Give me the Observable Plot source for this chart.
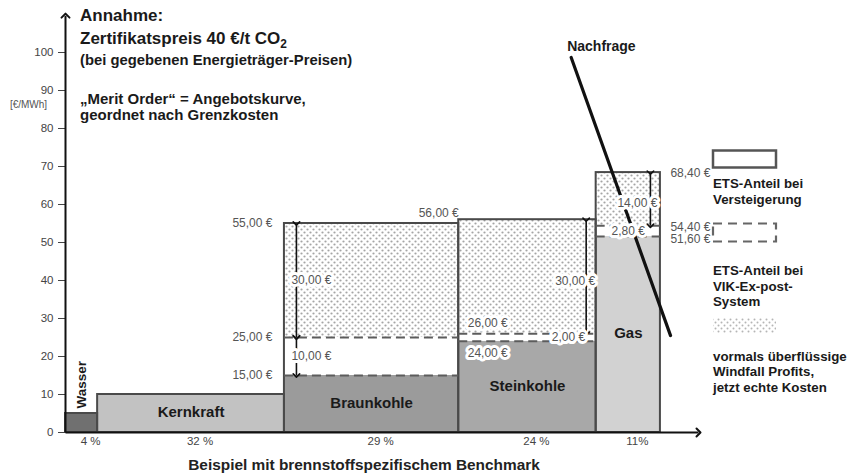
<!DOCTYPE html>
<html><head><meta charset="utf-8">
<script src="https://cdn.jsdelivr.net/npm/d3@7"></script>
<script src="https://cdn.jsdelivr.net/npm/@observablehq/plot@0.6"></script>
<style>
body{margin:0;background:#fff;font-family:Arial,"Liberation Sans",sans-serif;}
#wrap{position:relative;width:855px;height:474px;overflow:hidden;}
.t{position:absolute;white-space:nowrap;transform:translateY(-50%);line-height:1;color:#1a1a1a;font-weight:bold;}
.t sub{font-size:70%;vertical-align:-4px;line-height:0;}
.sw{position:absolute;}
</style></head><body><div id="wrap"></div>
<script>
// ---- data ----
const sources = ["Wasser", "Kernkraft", "Braunkohle", "Steinkohle", "Gas"];
const shareLabels = ["4 %", "32 %", "29 %", "24 %", "11%"];
const shareEdges = [0, 5.4, 36.8, 66.1, 89.2, 100];      // cumulative capacity share (x extents)
const marginalCost = [5, 10, 15, 24, 51.6];               // €/MWh without certificates
const etsVik = [0, 0, 10, 2, 2.8];                        // ETS share, VIK ex-post system
const windfall = [0, 0, 30, 30, 14];                      // former windfall profits
const demandX = [85.0, 101.7];
const demandY = [98.7, 25.5];
const yTicks = [0, 10, 20, 30, 40, 50, 60, 70, 80, 90, 100];
const xMax = 106.4, yMax = 110;

const fills = ["#707070", "#c2c2c2", "#9b9b9b", "#a8a8a8", "#d2d2d2"];
const FONT = 'Arial, "Liberation Sans", sans-serif';

const cols = sources.map((name, i) => ({
  name, i, share: shareLabels[i],
  x1: shareEdges[i], x2: shareEdges[i + 1],
  cost: marginalCost[i],
  vik: marginalCost[i] + etsVik[i],
  top: marginalCost[i] + etsVik[i] + windfall[i]
}));
const ets = cols.filter(d => windfall[d.i] > 0);
const bk = cols[2], sk = cols[3], gas = cols[4];
const eur = v => v.toFixed(2).replace(".", ",") + " €";
const mid = (a, b) => (a + b) / 2;

const gray = {fill: "#555", fontSize: 12};
// label with a white box-like halo beneath it
const haloText = (data, opts) => [
  Plot.text(data, {...opts, ...gray, fill: "white", stroke: "white", strokeWidth: 6, strokeLinejoin: "round"}),
  Plot.text(data, {...opts, ...gray})
];
const arrowOpts = {stroke: "#111", strokeWidth: 1.6, markerStart: "arrow", markerEnd: "arrow", ariaLabel: "value-arrow"};

const svg = Plot.plot({
  width: 855, height: 474,
  marginLeft: 65, marginRight: 157, marginTop: 14, marginBottom: 42,
  style: {fontFamily: FONT, fontSize: "11.5px", color: "#444", background: "white"},
  x: {domain: [0, xMax], axis: null},
  y: {domain: [0, yMax], ticks: yTicks, tickSize: 7, tickPadding: 5, label: null},
  color: {type: "identity"},
  marks: [
    // supply bars
    Plot.rect(cols, {x1: "x1", x2: "x2", y1: () => 0, y2: "cost", fill: d => fills[d.i]}),
    // windfall (pattern) and VIK share (white)
    Plot.rect(ets, {x1: "x1", x2: "x2", y1: "vik", y2: "top", fill: "url(#dots)"}),
    Plot.rect(ets, {x1: "x1", x2: "x2", y1: "cost", y2: "vik", fill: "white"}),
    // column outlines (auction ETS share)
    Plot.rect(cols, {x1: "x1", x2: "x2", y1: () => 0, y2: "top", fill: "none", stroke: "#4a4a4a", strokeWidth: 2}),
    // dashed VIK share
    Plot.ruleY(ets, {y: "vik", x1: "x1", x2: "x2", stroke: "#5c5c5c", strokeWidth: 2, strokeDasharray: "9,5"}),
    Plot.ruleY(ets, {y: "cost", x1: "x1", x2: "x2", stroke: "#5c5c5c", strokeWidth: 2, strokeDasharray: "9,5"}),
    // axes lines with arrows
    Plot.link([0], {x1: () => 0, x2: () => xMax, y1: () => 0, y2: () => 0, stroke: "#111", strokeWidth: 2, markerEnd: "arrow"}),
    Plot.link([0], {x1: () => 0, x2: () => 0, y1: () => 0, y2: () => yMax - 0.3, stroke: "#111", strokeWidth: 2, markerEnd: "arrow"}),
    // demand curve
    Plot.line(demandX.map((x, i) => ({x, y: demandY[i]})), {x: "x", y: "y", stroke: "#111", strokeWidth: 3.2}),
    Plot.text([{x: demandX[0], y: demandY[0]}], {x: "x", y: "y", text: () => "Nachfrage", textAnchor: "start", dx: -4, dy: -11, fontWeight: "bold", fontSize: 14, fill: "#1a1a1a"}),
    // double arrows
    Plot.link([bk], {x1: d => d.x1, x2: d => d.x1, y1: d => d.top, y2: d => d.vik, dx: 12, ...arrowOpts}),
    Plot.link([bk], {x1: d => d.x1, x2: d => d.x1, y1: d => d.vik, y2: d => d.cost, dx: 12, ...arrowOpts}),
    Plot.link([sk], {x1: d => d.x2, x2: d => d.x2, y1: d => d.top, y2: d => d.vik, dx: -10, ...arrowOpts}),
    Plot.link([gas], {x1: d => d.x2, x2: d => d.x2, y1: d => d.top, y2: d => d.vik, dx: -10, ...arrowOpts}),
    // value labels: Braunkohle
    Plot.text([bk.top, bk.vik, bk.cost], {x: () => bk.x1, y: d => d, text: eur, textAnchor: "end", dx: -12, ...gray}),
    haloText([bk], {x: "x1", y: d => mid(d.vik, d.top), text: d => eur(d.top - d.vik), textAnchor: "start", dx: 7}),
    haloText([bk], {x: "x1", y: d => mid(d.cost, d.vik), text: d => eur(d.vik - d.cost), textAnchor: "start", dx: 7}),
    // Steinkohle
    Plot.text([sk], {x: "x1", y: "top", text: d => eur(d.top), textAnchor: "end", dy: -7, ...gray}),
    haloText([sk], {x: "x1", y: "vik", text: d => eur(d.vik), textAnchor: "start", dx: 9, dy: -11}),
    haloText([sk], {x: "x1", y: "cost", text: d => eur(d.cost), textAnchor: "start", dx: 9, dy: 12}),
    haloText([sk], {x: "x2", y: "vik", text: d => eur(d.vik - d.cost), textAnchor: "end", dx: -11, dy: 3}),
    haloText([sk], {x: "x2", y: d => mid(d.vik, d.top), text: d => eur(d.top - d.vik), textAnchor: "end", dx: -1, dy: 4}),
    // Gas
    haloText([gas], {x: "x2", y: d => mid(d.vik, d.top), text: d => eur(d.top - d.vik), textAnchor: "end", dx: -3, dy: 4}),
    haloText([gas], {x: d => mid(d.x1, d.x2), y: d => mid(d.cost, d.vik), text: d => eur(d.vik - d.cost)}),
    Plot.text([gas.top, gas.vik], {x: () => gas.x2, y: d => d, text: eur, textAnchor: "start", dx: 10, dy: 1, ...gray}),
    Plot.text([gas.cost], {x: () => gas.x2, y: d => d, text: eur, textAnchor: "start", dx: 10, dy: 3, ...gray}),
    // source names
    Plot.text(cols.slice(1), {x: d => mid(d.x1, d.x2), y: d => d.cost / 2, text: "name", dy: -1, fontWeight: "bold", fontSize: 15, fill: "#1a1a1a"}),
    Plot.text([cols[0]], {x: d => mid(d.x1, d.x2), y: "cost", text: "name", rotate: -90, textAnchor: "start", dy: -5, fontWeight: "bold", fontSize: 13.5, fill: "#1a1a1a"}),
    // share labels
    Plot.text(cols, {x: d => mid(d.x1, d.x2), y: () => 0, text: "share", dx: 9, dy: 9, fill: "#444", fontSize: 11.5}),
    // unit label
    Plot.text(["[€/MWh]"], {x: () => 0, y: () => 86.3, text: d => d, dx: -37, fill: "#555", fontSize: 10})
  ]
});

// dotted pattern for windfall profits
const defs = d3.select(svg).insert("defs", ":first-child");
const pat = defs.append("pattern").attr("id", "dots").attr("patternUnits", "userSpaceOnUse").attr("width", 6).attr("height", 6);
pat.append("rect").attr("width", 6).attr("height", 6).attr("fill", "#fff");
pat.append("circle").attr("cx", 1.5).attr("cy", 1.5).attr("r", 1.1).attr("fill", "#a5a5a5");
pat.append("circle").attr("cx", 4.5).attr("cy", 4.5).attr("r", 1.1).attr("fill", "#a5a5a5");

// filled arrowheads for the value arrows
d3.select(svg).selectAll('g[aria-label="value-arrow"] marker').each(function () {
  const m = d3.select(this);
  const col = m.attr("stroke") || "#111";
  m.attr("fill", col).attr("stroke", "none");
  m.selectAll("path").attr("d", "M-3.2,-3.3L3,0L-3.2,3.3Z").attr("fill", col).attr("stroke", "none");
});

const wrap = document.getElementById("wrap");
wrap.appendChild(svg);
svg.style.position = "absolute"; svg.style.left = "0"; svg.style.top = "0";

function addText(html, left, top, size, extra) {
  const d = document.createElement("div");
  d.className = "t"; d.innerHTML = html;
  d.style.left = left + "px"; d.style.top = top + "px"; d.style.fontSize = size + "px";
  if (extra) Object.assign(d.style, extra);
  wrap.appendChild(d);
}
// title block
addText("Annahme:", 80, 15, 17);
addText("Zertifikatspreis 40 €/t CO<sub>2</sub>", 80, 38, 17);
addText("(bei gegebenen Energieträger-Preisen)", 80, 60, 14.8);
addText("„Merit Order“ = Angebotskurve,", 80, 98, 15);
addText("geordnet nach Grenzkosten", 80, 114, 15);
// x title
addText("Beispiel mit brennstoffspezifischem Benchmark", 364, 465, 15.4, {transform: "translate(-50%,-50%)", color: "#222"});

// legend
function addSwatch(svgInner, top, h) {
  const d = document.createElement("div");
  d.className = "sw"; d.style.left = "711px"; d.style.top = top + "px";
  d.innerHTML = `<svg width="70" height="${h}" xmlns="http://www.w3.org/2000/svg">${svgInner}</svg>`;
  wrap.appendChild(d);
}
addSwatch('<rect x="2" y="1.5" width="63" height="17" fill="white" stroke="#555" stroke-width="2.5"/>', 149, 21);
addText("ETS-Anteil bei", 713, 184, 13.3);
addText("Versteigerung", 713, 200, 13.3);
addSwatch('<rect x="2" y="1.5" width="63" height="18" fill="white" stroke="#666" stroke-width="2.2" stroke-dasharray="9,6"/>', 222, 22);
addText("ETS-Anteil bei", 713, 271, 13.3);
addText("VIK-Ex-post-", 713, 287, 13.3);
addText("System", 713, 302, 13.3);
addSwatch('<defs><pattern id="dotsL" patternUnits="userSpaceOnUse" width="6" height="6"><rect width="6" height="6" fill="#fff"/><circle cx="1.5" cy="1.5" r="1" fill="#b5b5b5"/><circle cx="4.5" cy="4.5" r="1" fill="#b5b5b5"/></pattern></defs><rect x="2" y="0" width="63" height="15" fill="url(#dotsL)"/>', 318, 16);
addText("vormals überflüssige", 713, 357, 13.3);
addText("Windfall Profits,", 713, 372, 13.3);
addText("jetzt echte Kosten", 713, 388, 13.3);
</script>
</body></html>
